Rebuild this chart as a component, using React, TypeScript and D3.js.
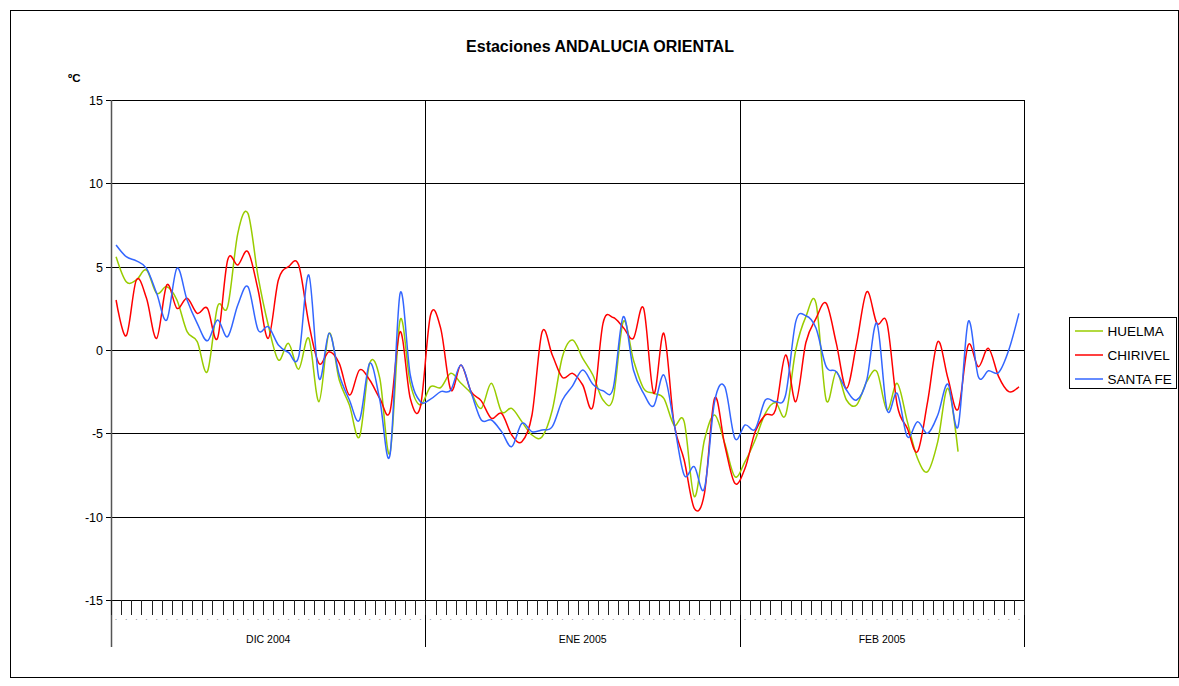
import React from "react";
import * as d3 from "d3";

// Monthly category blocks (one category per day)
const monthLabels = ["DIC 2004", "ENE 2005", "FEB 2005"];
const monthDays = [31, 31, 28];

const yTicks = [-15, -10, -5, 0, 5, 10, 15];

// Daily mean temperature (ºC) per station
const huelma: (number | null)[] = [
  5.6, 4.1, 4.2, 4.8, 3.4, 3.8, 3.0, 1.1, 0.5, -1.3,
  2.6, 2.6, 7.0, 8.2, 4.4, 1.5, -0.6, 0.4, -1.15, 0.7,
  -3.1, 1.0, -1.8, -3.3, -5.2, -0.8, -1.7, -6.2, 1.8, -2.0,
  -3.3, -2.2, -2.25, -1.4, -2.0, -2.6, -3.5, -2.0, -3.7, -3.5,
  -4.3, -5.1, -5.2, -3.6, -0.4, 0.6, -0.5, -1.5, -3.0, -2.9,
  1.7, -0.6, -2.3, -2.6, -2.9, -4.5, -4.3, -8.8, -5.4, -3.9,
  -5.6, -7.6, -6.7, -5.4, -3.8, -3.15, -3.9, 0.0, 2.0, 2.8,
  -3.0, -1.3, -3.0, -3.3, -1.9, -1.3, -3.6, -2.0, -4.3, -6.5,
  -7.3, -5.5, -2.3, -6.1, null, null, null, null, null, null,
];

const chirivel: (number | null)[] = [
  3.0, 0.85, 4.2, 3.1, 0.7, 3.9, 2.5, 3.1, 2.2, 2.5,
  0.7, 5.4, 5.1, 5.9, 3.6, 0.7, 4.2, 5.0, 5.1, 1.6,
  -0.8, -0.1, -0.8, -2.7, -1.2, -1.8, -2.9, -3.7, 1.1, -2.9,
  -3.4, 2.1, 1.3, -2.4, -0.9, -2.5, -3.05, -4.1, -3.8, -5.1,
  -5.5, -3.9, 1.1, -0.3, -1.65, -1.4, -2.1, -3.4, 1.6, 1.95,
  1.35, 0.7, 2.5, -2.6, 1.0, -4.4, -6.6, -9.5, -8.6, -2.9,
  -5.7, -8.0, -7.1, -4.9, -3.9, -3.6, -0.3, -3.1, 0.45, 1.9,
  2.8, 0.4, -2.3, 0.4, 3.5, 1.6, 1.6, -3.3, -4.7, -6.1,
  -3.1, 0.5, -1.7, -3.56, 0.3, -1.0, 0.1, -1.6, -2.5, -2.2,
];

const santaFe: (number | null)[] = [
  6.3, 5.6, 5.35, 4.9, 3.4, 1.8, 4.9, 3.0, 1.6, 0.55,
  1.8, 0.8, 2.7, 3.8, 1.2, 1.4, 0.3, -0.15, -0.4, 4.5,
  -1.7, 1.0, -1.5, -3.0, -4.2, -0.8, -3.0, -6.3, 3.4, -1.5,
  -3.1, -2.95, -2.5, -2.4, -0.9, -2.55, -4.2, -4.2, -4.9, -5.8,
  -4.4, -4.9, -4.8, -4.6, -3.0, -2.15, -1.2, -2.05, -2.45, -2.3,
  2.0, -1.2, -2.6, -3.35, -1.5, -4.4, -7.5, -7.0, -8.3, -3.1,
  -2.2, -5.3, -4.5, -4.75, -3.0, -3.1, -2.7, 1.7, 2.05, 1.3,
  -1.0, -1.3, -2.4, -3.0, -1.8, 1.6, -3.6, -2.6, -5.2, -4.3,
  -5.0, -3.9, -2.05, -4.6, 1.7, -1.6, -1.25, -1.35, 0.0, 2.2,
];

const seriesNames = ["HUELMA", "CHIRIVEL", "SANTA FE"];
const seriesValues = [huelma, chirivel, santaFe];
const seriesColors = ["#99CC00", "#FF0000", "#3366FF"];

const W = 1179;
const H = 686;
const plot = { left: 111, right: 1024, top: 100, bottom: 600 };
const FONT = "Arial, 'Liberation Sans', Helvetica, sans-serif";

export default function App() {
  const nDays = d3.sum(monthDays);
  const dayIdx = d3.range(nDays);

  const x = d3
    .scaleBand<number>()
    .domain(dayIdx)
    .range([plot.left, plot.right])
    .paddingInner(0)
    .paddingOuter(0);
  const bw = x.bandwidth();
  const xc = (i: number) => (x(i) as number) + bw / 2;

  const y = d3.scaleLinear().domain([-15, 15]).range([plot.bottom, plot.top]);

  const line = d3
    .line<number | null>()
    .defined((d) => d !== null)
    .x((_, i) => xc(i))
    .y((d) => y(d as number))
    .curve(d3.curveCatmullRom.alpha(0));

  // month boundaries in day index
  const monthStarts = monthDays.map((_, k) => d3.sum(monthDays.slice(0, k)));
  const boundaries = [...monthStarts, nDays];
  const bx = (i: number) => (i >= nDays ? plot.right : (x(i) as number));

  const legend = { left: 1069.5, top: 317.5, width: 107, height: 71 };

  return (
    <svg
      width={W}
      height={H}
      style={{ position: "absolute", left: 0, top: 0, background: "#fff" }}
      fontFamily={FONT}
    >
      <rect x={0} y={0} width={W} height={H} fill="#fff" />
      {/* chart area frame */}
      <rect x={10.5} y={10.5} width={1168} height={667} fill="none" stroke="#000" strokeWidth={1} />

      {/* title */}
      <text x={600} y={52} textAnchor="middle" fontSize={16} fontWeight="bold">
        Estaciones ANDALUCIA ORIENTAL
      </text>
      <text x={68} y={82} fontSize={11.5} fontWeight="bold">
        ºC
      </text>

      {/* horizontal gridlines */}
      {yTicks.map((t) => (
        <g key={t}>
          <line
            x1={plot.left - 5}
            x2={plot.right}
            y1={Math.round(y(t)) + 0.5}
            y2={Math.round(y(t)) + 0.5}
            stroke="#000"
            strokeWidth={1}
          />
          <text
            x={103}
            y={Math.round(y(t)) + 4.5}
            textAnchor="end"
            fontSize={12.5}
          >
            {t}
          </text>
        </g>
      ))}

      {/* month separators, left axis and right edge */}
      {boundaries.map((b) => (
        <line
          key={b}
          x1={Math.round(bx(b)) + 0.5}
          x2={Math.round(bx(b)) + 0.5}
          y1={plot.top}
          y2={647}
          stroke={b === 0 ? "#555" : "#000"}
          strokeWidth={b === 0 ? 1.5 : 1}
        />
      ))}

      {/* daily tick marks and category markers */}
      {d3.range(nDays + 1).map((i) => (
        <line
          key={"t" + i}
          x1={Math.round(bx(i)) + 0.5}
          x2={Math.round(bx(i)) + 0.5}
          y1={plot.bottom}
          y2={615}
          stroke="#222"
          strokeWidth={1}
        />
      ))}
      {dayIdx.map((i) => (
        <text key={"d" + i} x={xc(i)} y={620} textAnchor="middle" fontSize={7} fill="#444">
          .
        </text>
      ))}

      {/* month labels */}
      {monthLabels.map((m, k) => (
        <text
          key={m}
          x={(bx(boundaries[k]) + bx(boundaries[k + 1])) / 2}
          y={643}
          textAnchor="middle"
          fontSize={10.5}
        >
          {m}
        </text>
      ))}

      {/* series lines */}
      {seriesValues.map((vals, k) => (
        <path
          key={seriesNames[k]}
          d={line(vals) || ""}
          fill="none"
          stroke={seriesColors[k]}
          strokeWidth={1.5}
          strokeLinejoin="round"
        />
      ))}

      {/* legend */}
      <rect
        x={legend.left}
        y={legend.top}
        width={legend.width}
        height={legend.height}
        fill="#fff"
        stroke="#000"
        strokeWidth={1}
      />
      {seriesNames.map((name, k) => {
        const ly = legend.top + 13.5 + k * 24;
        return (
          <g key={name}>
            <line
              x1={legend.left + 5.5}
              x2={legend.left + 33.5}
              y1={ly}
              y2={ly}
              stroke={seriesColors[k]}
              strokeWidth={1.5}
            />
            <text x={legend.left + 38} y={ly + 4.8} fontSize={13.5}>
              {name}
            </text>
          </g>
        );
      })}
    </svg>
  );
}
